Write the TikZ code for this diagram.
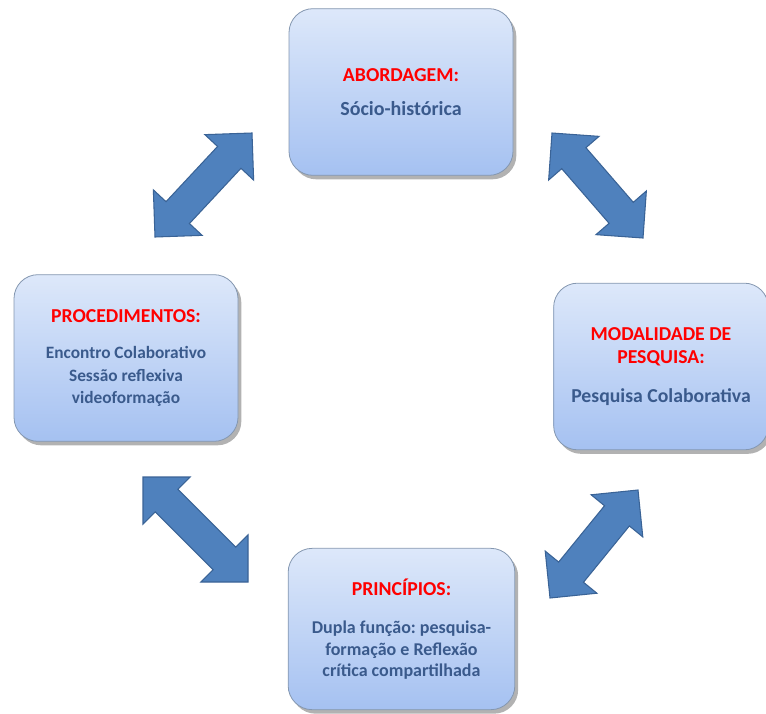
\documentclass[tikz,border=0pt]{standalone}
\usepackage{fontspec}
\setmainfont{Carlito}
\usepackage{tikz}
\usetikzlibrary{calc,shadows}
\frenchspacing

\definecolor{boxtop}{HTML}{DDE8FA}
\definecolor{boxbot}{HTML}{A5C1F1}
\definecolor{boxline}{HTML}{8497B0}
\definecolor{bodytext}{HTML}{3A5A8C}
\definecolor{arrowfill}{HTML}{4F81BD}
\definecolor{arrowline}{HTML}{3A6396}

\newcommand{\boxtitle}[1]{{\color{red}\fontsize{14.8}{17}\selectfont #1}}

\begin{document}
\begin{tikzpicture}[x = 0.75pt,y = -0.75pt,
  infobox/.style = {draw = boxline,line width = 0.6pt,rounded corners = 18pt,
    top color = boxtop,bottom color = boxbot,align = center,inner sep = 0pt,
    text = bodytext,font = \bfseries\fontsize{13.5}{17}\selectfont,
    drop shadow = {shadow xshift = 2.5pt,shadow yshift = -3pt,opacity = 0.3,fill = black}},
  blockarrow/.style = {fill = arrowfill,draw = arrowline,line width = 0.8pt,line join = miter}]
\useasboundingbox (0,0) rectangle (766,713);

\node[infobox,minimum width = 168pt,minimum height = 125pt,font = \bfseries\fontsize{15}{17}\selectfont] at(401,92) (abord) {\boxtitle{ABORDAGEM:}\\[9pt] Sócio-histórica};

\node[infobox,minimum width = 168pt,minimum height = 125pt,font = \bfseries\fontsize{13}{17}\selectfont] at(126,358) (proced) {\boxtitle{PROCEDIMENTOS:}\\[10pt] Encontro Colaborativo\\ Sessão reflexiva\\ videoformação};

\node[infobox,minimum width = 161pt,minimum height = 125pt,font = \bfseries\fontsize{14.8}{17}\selectfont] at(661,366.5) (modal) {\boxtitle{MODALIDADE DE}\\ \boxtitle{PESQUISA:}\\[12pt] Pesquisa Colaborativa};

\node[infobox,minimum width = 170pt,minimum height = 121pt,font = \bfseries\fontsize{13.5}{16}\selectfont] at(401.5,629) (princ) {\boxtitle{PRINCÍPIOS:}\\[13pt] Dupla função: pesquisa-\\ formação e Reflexão\\ crítica compartilhada};


\coordinate (tlA) at (155,237);
\coordinate (tlB) at (252,133);
\coordinate (trA) at (552,133);
\coordinate (trB) at (643,238);
\coordinate (blA) at (143,477);
\coordinate (blB) at (248,582);
\coordinate (brA) at (550,598);
\coordinate (brB) at (638,490);


\foreach \a/\b in {tlA/tlB,trA/trB,blA/blB,brA/brB}{
  \coordinate (h1) at ($(\a)!25pt!(\b)$);
  \coordinate (h2) at ($(\b)!25pt!(\a)$);
  \filldraw[blockarrow] (\a) -- ($(h1)!25pt!90:(\b)$) -- ($(h1)!12pt!90:(\b)$)
    -- ($(h2)!12pt!-90:(\a)$) -- ($(h2)!25pt!-90:(\a)$) -- (\b)
    -- ($(h2)!25pt!90:(\a)$) -- ($(h2)!12pt!90:(\a)$)
    -- ($(h1)!12pt!-90:(\b)$) -- ($(h1)!25pt!-90:(\b)$) -- cycle;
}
\end{tikzpicture}
\end{document}
